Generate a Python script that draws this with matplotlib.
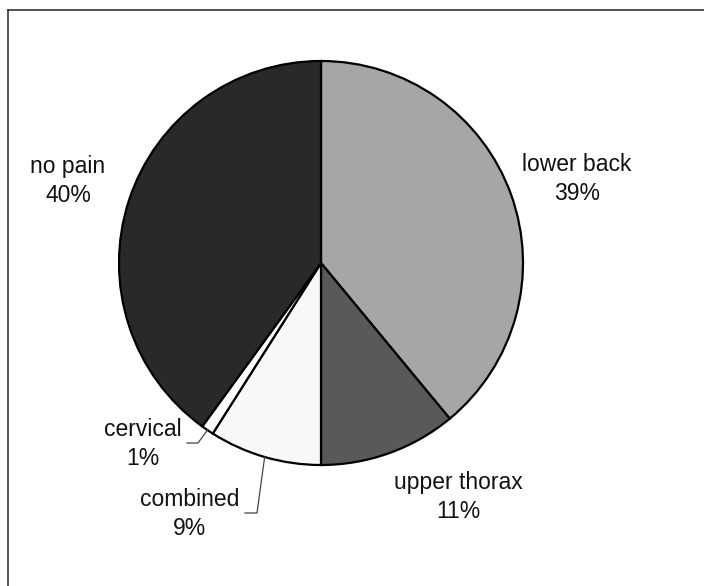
"""Pie chart of pain location (lower back, upper thorax, combined, cervical, no pain)."""
import numpy as np
import matplotlib
matplotlib.use('Agg')
import matplotlib.pyplot as plt
from matplotlib.lines import Line2D

plt.rcParams['font.family'] = ['Liberation Sans', 'DejaVu Sans']

labels = ['lower back', 'upper thorax', 'combined', 'cervical', 'no pain']
values = [39, 11, 9, 1, 40]
colors = ['#a6a6a6', '#595959', '#f8f8f8', '#ffffff', '#292929']

W, H = 704, 586
fig = plt.figure(figsize=(W / 100, H / 100), dpi=100)
ax = fig.add_axes([0, 0, 1, 1])

cx, cy, r = 321, H - 263, 202
wedges, _ = ax.pie(values, colors=colors, startangle=90, counterclock=False,
                   center=(cx, cy), radius=r, frame=True,
                   wedgeprops=dict(edgecolor='black', linewidth=1.6))
ax.set_xlim(0, W); ax.set_ylim(0, H)
ax.set_aspect('equal')
ax.axis('off')

# label positions (px from top-left) - layout only
pos = {'lower back': (577, 179), 'upper thorax': (458, 497), 'combined': (190, 514),
       'cervical': (143, 444), 'no pain': (68, 181)}
for lab, v in zip(labels, values):
    x, y = pos[lab]
    ax.text(x, H - y, f'{lab}\n{v}%', ha='center', va='center', fontsize=16.5,
            linespacing=1.35, color='#111')

# leader lines for the two small slices
def edge_pt(w):
    a = np.deg2rad((w.theta1 + w.theta2) / 2)
    return w.center[0] + w.r * np.cos(a), w.center[1] + w.r * np.sin(a)

for lab, (tx, ty), elbow in [('cervical', (187, 443), 198), ('combined', (245, 513), 257)]:
    w = wedges[labels.index(lab)]
    ex, ey = edge_pt(w)
    ax.plot([tx, elbow, ex], [H - ty, H - ty, ey], color='#444', lw=0.9)

# outer chart border (top and left visible)
fig.add_artist(Line2D([8 / W, 1], [1 - 10 / H, 1 - 10 / H], color='#333', lw=1.2))
fig.add_artist(Line2D([8 / W, 8 / W], [0, 1 - 10 / H], color='#333', lw=1.2))

fig.savefig('out.png', dpi=100)
